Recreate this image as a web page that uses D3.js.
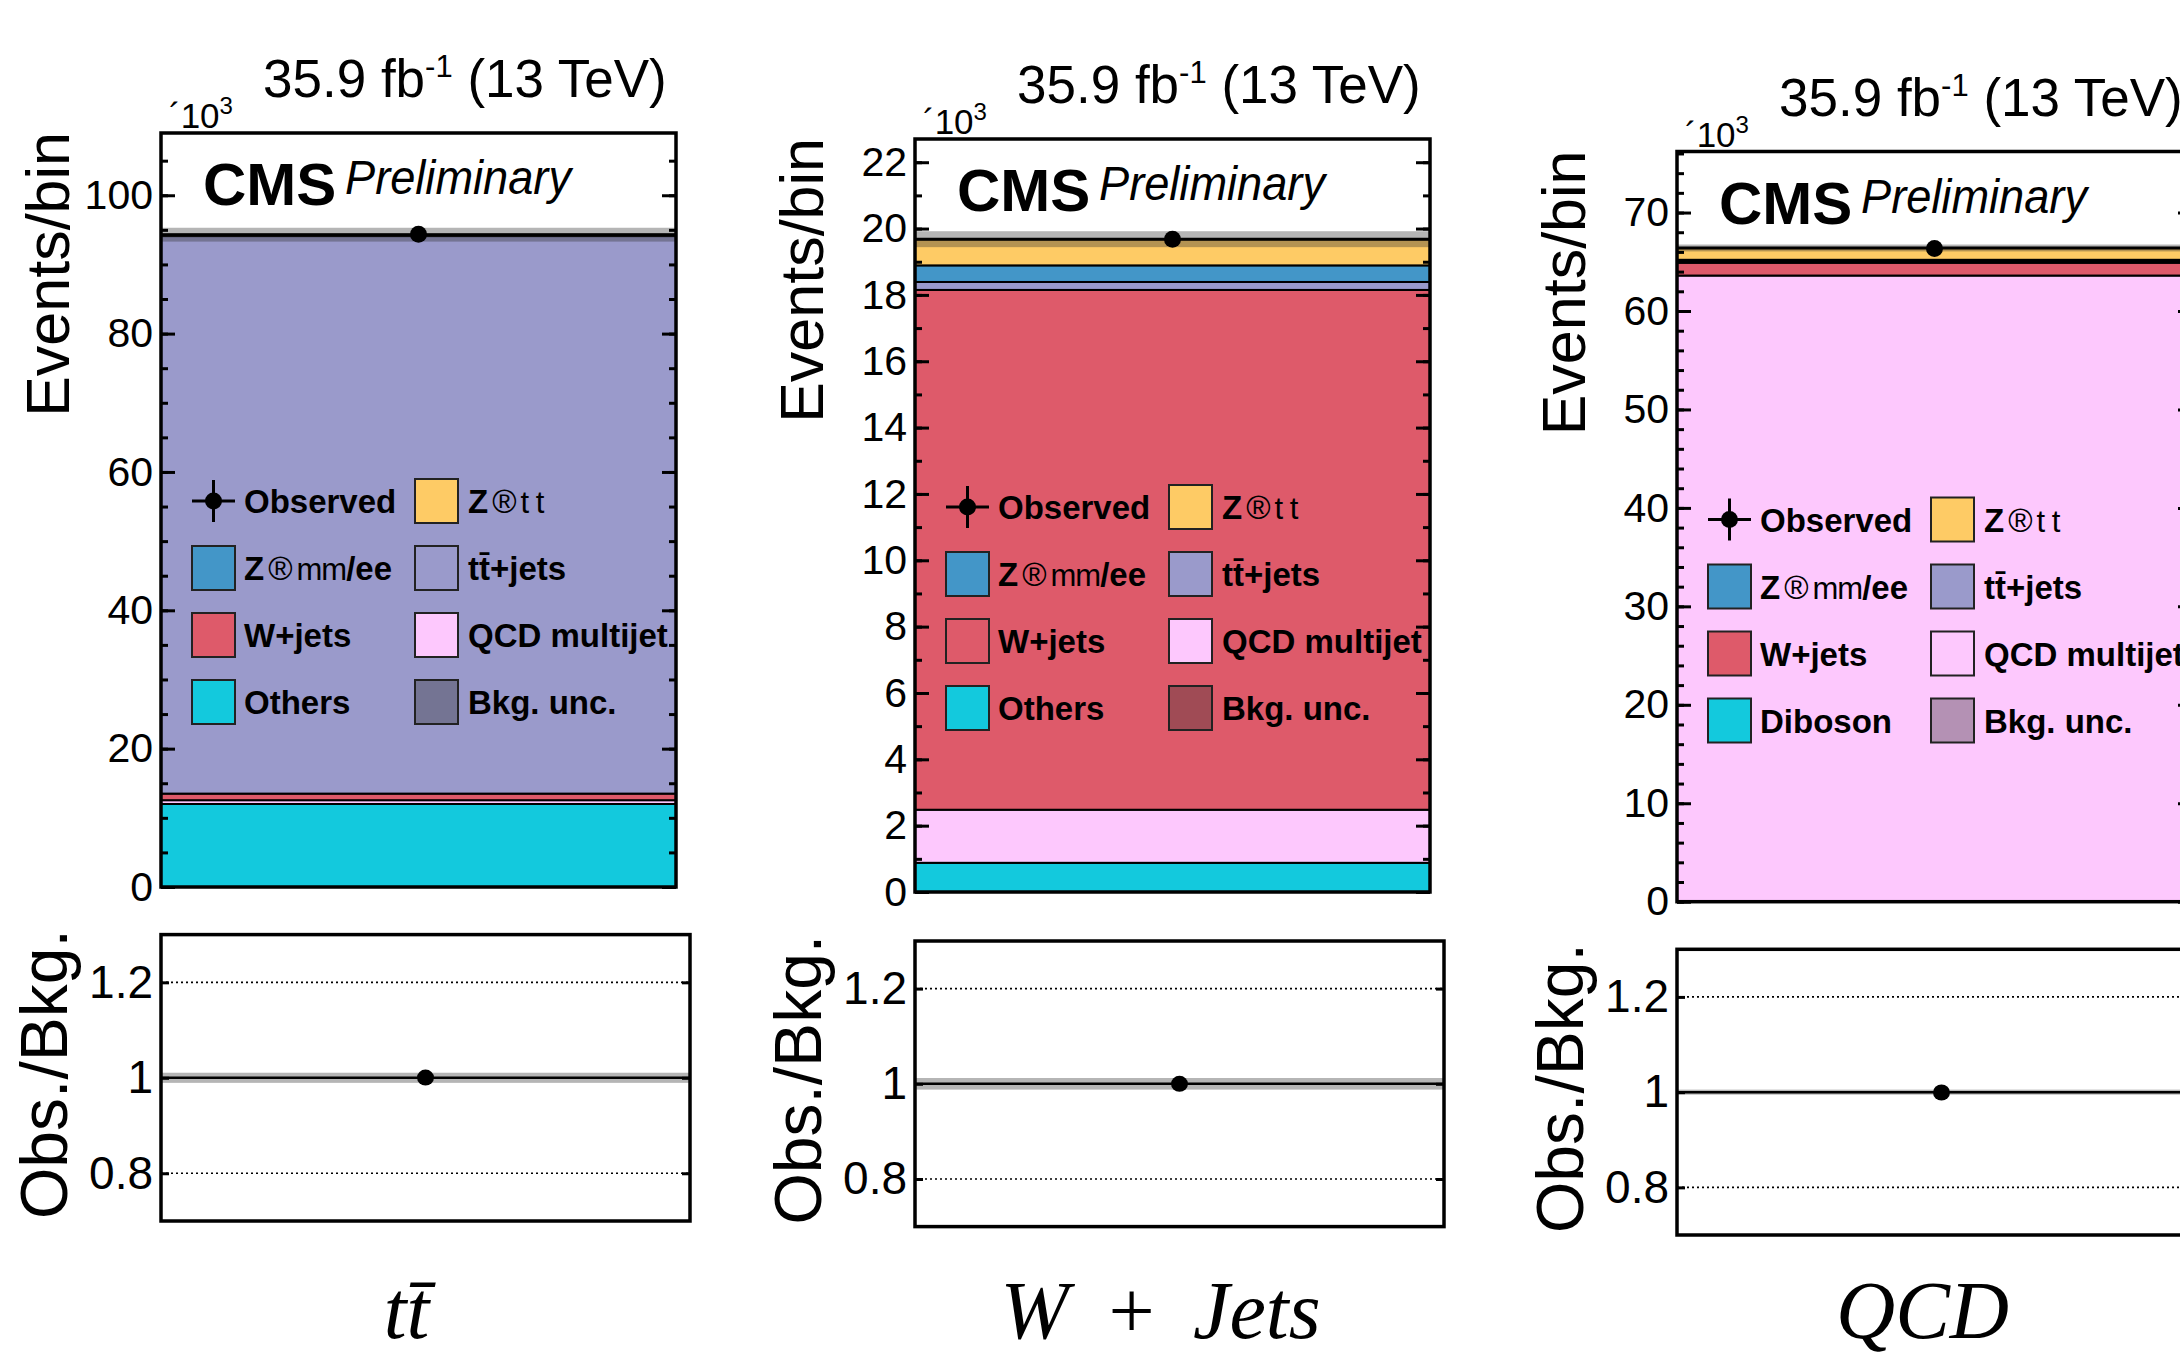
<!DOCTYPE html>
<html>
<head>
<meta charset="utf-8">
<script src="https://cdn.jsdelivr.net/npm/d3@7"></script>
<style>
html, body { margin: 0; padding: 0; background: #fff; overflow: hidden; }
text { font-family: "Liberation Sans", Arial, Helvetica, sans-serif; fill: #000; }
</style>
</head>
<body>
<div id="chart"></div>
<script>
// yields are in units of 10^3 events, one bin per control region
var regionLabels = ["t" + "t\u0304", "W + Jets", "QCD"];
var processKeys = ["others", "qcd", "wjets", "ttbar", "zll", "ztautau"];
var othersLegend = ["Others", "Others", "Diboson"];

var othersYield  = [12.00, 0.88, 0.05];
var qcdYield     = [0.55, 1.60, 63.55];
var wjetsYield   = [0.95, 15.67, 1.30];
var ttbarYield   = [80.60, 0.24, 0.15];
var zllYield     = [0.10, 0.50, 0.15];
var ztautauYield = [0.10, 0.79, 1.20];
var observedYield  = [94.35, 19.68, 66.35];
var bkgUncertainty = [1.00, 0.24, 0.35];

var yAxisMax = [109, 22.7, 76.2];
var yMajorTicks = [
  [0, 20, 40, 60, 80, 100],
  [0, 2, 4, 6, 8, 10, 12, 14, 16, 18, 20, 22],
  [0, 10, 20, 30, 40, 50, 60, 70]
];
var yMinorStep = [5, 1, 2];
var ratioRange = [0.7, 1.3];
var ratioTicks = [0.8, 1, 1.2];

var processColors = ["#13c9dd", "#fdc8fd", "#de5a6a", "#9a9acb", "#4396c8", "#fecb65"];
var uncColor = "rgb(48,48,48)", uncOpacity = 0.356;

var svgWidth = 2180, svgHeight = 1358;
var mainW = 515, ratioW = 529;
var panelLayout = [
  {x: 161,  top: 133,   bottom: 887,   rTop: 934.6, rBottom: 1221},
  {x: 915,  top: 139,   bottom: 892,   rTop: 941,   rBottom: 1226.6},
  {x: 1677, top: 151.5, bottom: 901.7, rTop: 949.3, rBottom: 1235}
];

var yields = [othersYield, qcdYield, wjetsYield, ttbarYield, zllYield, ztautauYield];

var svg = d3.select("#chart")
  .append("svg")
  .attr("width", svgWidth)
  .attr("height", svgHeight);

function drawTicks(g, axisFn, scale, values, size, tx) {
  g.append("g")
    .attr("transform", `translate(${tx},0)`)
    .call(axisFn(scale).tickValues(values).tickSize(-size).tickFormat(""))
    .call(a => a.select(".domain").remove())
    .selectAll("line").attr("stroke", "#000").attr("stroke-width", 3);
}

regionLabels.forEach(function(region, i) {
  var L = panelLayout[i];
  var g = svg.append("g");

  var x = d3.scaleBand().domain([region]).range([L.x, L.x + mainW]);
  var xr = d3.scaleBand().domain([region]).range([L.x, L.x + ratioW]);
  var y = d3.scaleLinear().domain([0, yAxisMax[i]]).range([L.bottom, L.top]);
  var yr = d3.scaleLinear().domain(ratioRange).range([L.rBottom, L.rTop]);

  // stack
  var row = {region: region};
  processKeys.forEach(function(k, j) { row[k] = yields[j][i]; });
  var series = d3.stack().keys(processKeys)([row]);
  var total = d3.sum(processKeys, k => row[k]);

  g.append("rect")
    .attr("x", L.x).attr("y", L.top)
    .attr("width", mainW).attr("height", L.bottom - L.top)
    .attr("fill", "#fff");

  g.selectAll("rect.layer")
    .data(series)
    .enter()
    .append("rect")
    .attr("class", "layer")
    .attr("x", x(region))
    .attr("width", x.bandwidth())
    .attr("y", d => y(d[0][1]))
    .attr("height", d => y(d[0][0]) - y(d[0][1]))
    .attr("fill", (d, j) => processColors[j])
    .attr("stroke", "#000")
    .attr("stroke-width", 2);

  // background uncertainty band
  g.append("rect")
    .attr("x", x(region)).attr("width", x.bandwidth())
    .attr("y", y(total + bkgUncertainty[i]))
    .attr("height", y(total - bkgUncertainty[i]) - y(total + bkgUncertainty[i]))
    .attr("fill", uncColor).attr("opacity", uncOpacity);

  g.append("line")
    .attr("x1", x(region)).attr("x2", x(region) + x.bandwidth())
    .attr("y1", y(total)).attr("y2", y(total))
    .attr("stroke", "#000").attr("stroke-width", 3);

  g.append("circle")
    .attr("cx", x(region) + x.bandwidth() / 2)
    .attr("cy", y(observedYield[i]))
    .attr("r", 8.5)
    .attr("fill", "#000");

  // legend
  var legendRows = [
    [{kind: "obs", parts: [["Observed", "bold"]]},
     {kind: "box", color: processColors[5], parts: [["Z", "bold"], ["\u00ae", "normal", 4], ["t t", "thin", 4]]}],
    [{kind: "box", color: processColors[4], parts: [["Z", "bold"], ["\u00ae", "normal", 4], ["mm", "thin", 4], ["/ee", "bold"]]},
     {kind: "box", color: processColors[3], parts: [["t" + "t\u0304+jets", "bold"]]}],
    [{kind: "box", color: processColors[2], parts: [["W+jets", "bold"]]},
     {kind: "box", color: processColors[1], parts: [["QCD multijet", "bold"]]}],
    [{kind: "box", color: processColors[0], parts: [[othersLegend[i], "bold"]]},
     {kind: "unc", parts: [["Bkg. unc.", "bold"]]}]
  ];
  var boxX = [L.x + 31, L.x + 254], textX = [L.x + 83, L.x + 307];
  legendRows.forEach(function(r, ri) {
    var cy = L.top + 368 + ri * 67;
    r.forEach(function(e, ci) {
      var bx = boxX[ci];
      if (e.kind === "obs") {
        g.append("line").attr("x1", bx).attr("x2", bx + 43).attr("y1", cy).attr("y2", cy)
          .attr("stroke", "#000").attr("stroke-width", 3);
        g.append("line").attr("x1", bx + 21.5).attr("x2", bx + 21.5).attr("y1", cy - 21).attr("y2", cy + 21)
          .attr("stroke", "#000").attr("stroke-width", 3);
        g.append("circle").attr("cx", bx + 21.5).attr("cy", cy).attr("r", 8.5).attr("fill", "#000");
      } else {
        g.append("rect").attr("x", bx).attr("y", cy - 22).attr("width", 43).attr("height", 44)
          .attr("fill", e.kind === "unc" ? uncColor : e.color)
          .attr("fill-opacity", e.kind === "unc" ? uncOpacity : 1)
          .attr("stroke", "#222").attr("stroke-width", 2);
      }
      var t = g.append("text").attr("x", textX[ci]).attr("y", cy + 12).style("font-size", "33px");
      e.parts.forEach(function(p) {
        var ts = t.append("tspan").text(p[0]).attr("dx", p[2] || 0)
          .style("font-weight", p[1] === "bold" ? "bold" : "normal");
        if (p[1] === "thin") ts.style("font-size", "31px").style("letter-spacing", "-1px");
      });
    });
  });

  // frame and ticks
  g.append("rect")
    .attr("x", L.x).attr("y", L.top)
    .attr("width", mainW).attr("height", L.bottom - L.top)
    .attr("fill", "none").attr("stroke", "#000").attr("stroke-width", 3.5);

  var minor = d3.range(0, yAxisMax[i], yMinorStep[i]);
  drawTicks(g, d3.axisLeft, y, minor, 7, L.x);
  drawTicks(g, d3.axisRight, y, minor, 7, L.x + mainW);
  drawTicks(g, d3.axisRight, y, yMajorTicks[i], 14, L.x + mainW);

  g.append("g")
    .attr("transform", `translate(${L.x},0)`)
    .call(d3.axisLeft(y).tickValues(yMajorTicks[i]).tickSize(-14).tickPadding(8).tickFormat(d => String(d)))
    .call(a => a.select(".domain").remove())
    .call(a => a.selectAll("line").attr("stroke", "#000").attr("stroke-width", 3))
    .call(a => a.selectAll("text").style("font-size", "41px").style("font-family", "Liberation Sans, Arial, sans-serif").attr("fill", "#000"));

  // texts above the frame
  var lumi = g.append("text").attr("x", L.x + 102).attr("y", L.top - 36).style("font-size", "53px");
  lumi.append("tspan").text("35.9 fb");
  lumi.append("tspan").text("-1").attr("dy", -20).style("font-size", "31px");
  lumi.append("tspan").text(" (13 TeV)").attr("dy", 20);

  var mult = g.append("text").attr("x", L.x + 8).attr("y", L.top - 5).style("font-size", "35px");
  mult.append("tspan").text("\u00b410");
  mult.append("tspan").text("3").attr("dy", -14).style("font-size", "24px");

  g.append("text").attr("x", L.x + 42).attr("y", L.top + 72)
    .style("font-size", "60px").style("font-weight", "bold").text("CMS");
  g.append("text").attr("x", L.x + 184).attr("y", L.top + 61)
    .style("font-size", "48px").style("font-style", "italic")
    .attr("textLength", 226).attr("lengthAdjust", "spacingAndGlyphs")
    .text("Preliminary");

  g.append("text")
    .attr("transform", `translate(${L.x - 92},${L.top - 1}) rotate(-90)`)
    .attr("text-anchor", "end")
    .style("font-size", "61px")
    .text("Events/bin");

  // ratio panel
  var ratio = observedYield[i] / total;
  var relUnc = bkgUncertainty[i] / total;
  g.append("rect")
    .attr("x", xr(region)).attr("width", xr.bandwidth())
    .attr("y", yr(1 + relUnc)).attr("height", yr(1 - relUnc) - yr(1 + relUnc))
    .attr("fill", uncColor).attr("opacity", uncOpacity);

  g.selectAll("line.grid")
    .data([0.8, 1.2])
    .enter()
    .append("line")
    .attr("class", "grid")
    .attr("x1", L.x).attr("x2", L.x + ratioW)
    .attr("y1", d => yr(d)).attr("y2", d => yr(d))
    .attr("stroke", "#000").attr("stroke-width", 1.6).attr("stroke-dasharray", "2,3");

  g.append("line")
    .attr("x1", L.x).attr("x2", L.x + ratioW)
    .attr("y1", yr(1)).attr("y2", yr(1))
    .attr("stroke", "#000").attr("stroke-width", 2.5);

  g.append("ellipse")
    .attr("cx", xr(region) + xr.bandwidth() / 2)
    .attr("cy", yr(ratio))
    .attr("rx", 8.5).attr("ry", 8)
    .attr("fill", "#000");

  g.append("rect")
    .attr("x", L.x).attr("y", L.rTop)
    .attr("width", ratioW).attr("height", L.rBottom - L.rTop)
    .attr("fill", "none").attr("stroke", "#000").attr("stroke-width", 3.5);

  drawTicks(g, d3.axisRight, yr, ratioTicks, 8, L.x + ratioW);
  g.append("g")
    .attr("transform", `translate(${L.x},0)`)
    .call(d3.axisLeft(yr).tickValues(ratioTicks).tickSize(-8).tickPadding(8).tickFormat(d => String(d)))
    .call(a => a.select(".domain").remove())
    .call(a => a.selectAll("line").attr("stroke", "#000").attr("stroke-width", 3))
    .call(a => a.selectAll("text").style("font-size", "46px").style("font-family", "Liberation Sans, Arial, sans-serif").attr("fill", "#000"));

  g.append("text")
    .attr("transform", `translate(${L.x - 94},${L.rBottom - 2}) rotate(-90)`)
    .attr("text-anchor", "start")
    .style("font-size", "66px")
    .text("Obs./Bkg.");

  // region name below
  g.append("text")
    .attr("x", x(region) + x.bandwidth() / 2 - 12)
    .attr("y", 1338)
    .attr("text-anchor", "middle")
    .style("font-family", "Liberation Serif, Times New Roman, serif")
    .style("font-style", "italic")
    .style("font-size", "82px")
    .style("word-spacing", "14px")
    .text(region);
});
</script>
</body>
</html>
